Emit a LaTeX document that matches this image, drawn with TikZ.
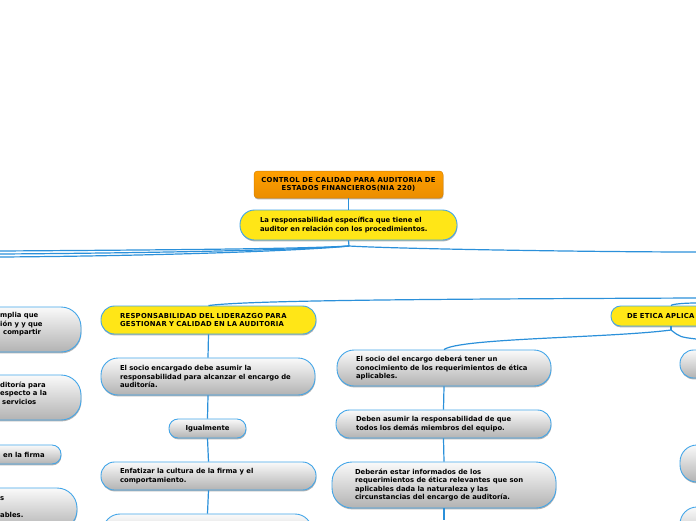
\documentclass[tikz,border=0pt]{standalone}
\usepackage{fontspec}
\setmainfont{DejaVu Sans}
\newfontfamily\capsfont{DejaVu Sans}[LetterSpace=4]
\usetikzlibrary{shadows,calc}
\definecolor{bord}{HTML}{42A5E8}
\definecolor{conn}{HTML}{2B90DA}
\definecolor{ylw}{HTML}{FFE617}
\definecolor{org}{HTML}{FF9A00}
\tikzset{
  txt/.style={font=\fontsize{6.85}{8.5}\selectfont\bfseries},
  captxt/.style={font=\fontsize{6.85}{8.5}\selectfont\capsfont\bfseries},
  base/.style={txt, draw=bord, line width=0.9pt, inner ysep=0pt,
    drop shadow={shadow xshift=0.4pt, shadow yshift=-1.4pt, opacity=0.3, fill=black}},
  graypill/.style={base, rounded corners=#1, top color=black!2, bottom color=black!30},
  graypill/.default=13pt,
  ylwpill/.style={base, rounded corners=#1, fill=ylw},
  ylwpill/.default=13pt,
  orgbox/.style={base, draw=org!85!black, line width=0.5pt, rounded corners=3.5pt, top color=org!95!yellow, bottom color=org!92!black},
  lbl/.style={txt, align=left, inner sep=0pt},
  cline/.style={draw=conn, line width=1.2pt},
}
\begin{document}
\begin{tikzpicture}[x=1pt,y=-1pt]
\useasboundingbox (0,0) rectangle (696,520);
\clip (0,0) rectangle (696,520);

% coordinates for free ends
\coordinate (fk) at (349,246);
\coordinate (L1) at (0,251);
\coordinate (L2) at (0,254);
\coordinate (L3) at (0,257);
\coordinate (R1) at (696,252);
\coordinate (RB1) at (696,298);
\coordinate (RB2) at (696,303);
\coordinate (fk2) at (671,330);
\coordinate (RB3) at (696,339);
\coordinate (endM) at (444,520);

% top
\node[orgbox, captxt, minimum width=189pt, minimum height=27pt, align=center] (root) at (348.5,184.5)
  {CONTROL DE CALIDAD PARA AUDITORIA DE\\ESTADOS FINANCIEROS(NIA 220)};
\node[ylwpill=14.5pt, minimum width=217pt, minimum height=30pt, text width=177pt, inner xsep=20pt, align=left] (ylwn) at (348.5,225)
  {La responsabilidad específica que tiene el\\auditor en relación con los procedimientos.};

% left column
\node[ylwpill=13.5pt, captxt, minimum width=215pt, minimum height=28pt, text width=177pt, inner xsep=19pt, align=left] (resp) at (208.5,320)
  {RESPONSABILIDAD DEL LIDERAZGO PARA\\GESTIONAR Y CALIDAD EN LA AUDITORIA};
\node[graypill=17pt, minimum width=214pt, minimum height=37pt, text width=176pt, inner xsep=19pt, align=left] (socio1) at (208,376.5)
  {El socio encargado debe asumir la\\responsabilidad para alcanzar el encargo de\\auditoría.};
\node[graypill=9pt, minimum width=77pt, minimum height=19pt, align=center] (igual) at (207.5,428.5) {Igualmente};
\node[graypill=13.5pt, minimum width=215pt, minimum height=28pt, text width=177pt, inner xsep=19pt, align=left] (enfat) at (208.5,476)
  {Enfatizar la cultura de la firma y el\\comportamiento.};
\node[graypill=17pt, minimum width=209pt, minimum height=40pt] (botL) at (207.5,534) {};

% middle column
\node[graypill=17pt, minimum width=214pt, minimum height=36pt, text width=176pt, inner xsep=19pt, align=left] (socio2) at (444,368)
  {El socio del encargo deberá tener un\\conocimiento de los requerimientos de ética\\aplicables.};
\node[graypill=13.5pt, minimum width=215pt, minimum height=28pt, text width=175pt, inner xsep=20pt, align=left] (deben) at (443.5,424)
  {Deben asumir la responsabilidad de que\\todos los demás miembros del equipo.};
\node[graypill=20pt, minimum width=224pt, minimum height=46pt, text width=178pt, inner xsep=23pt, align=left] (deberan) at (444,485)
  {Deberán estar informados de los\\requerimientos de ética relevantes que son\\aplicables dada la naturaleza y las\\circunstancias del encargo de auditoría.};

% right column
\node[ylwpill=9.5pt, captxt, minimum width=120pt, minimum height=20pt, text width=88pt, inner xsep=16pt, align=left] (etica) at (671,316)
  {DE ETICA APLICA};
\node[graypill=13.5pt, minimum width=200pt, minimum height=28pt] (r1) at (780,364) {};
\node[graypill=17pt, minimum width=200pt, minimum height=37pt] (r2) at (780,463.5) {};
\node[graypill=17pt, minimum width=200pt, minimum height=40pt] (r3) at (780,527) {};

% left partial nodes
\node[graypill=20pt, minimum width=231pt, minimum height=45pt] (la) at (-34.5,329.5) {};
\node[graypill=20pt, minimum width=231pt, minimum height=45pt] (lb) at (-34.5,397.5) {};
\node[graypill=9pt, minimum width=211pt, minimum height=19pt] (lc) at (-44.5,454.5) {};
\node[graypill=20pt, minimum width=227pt, minimum height=42pt] (ld) at (-36.5,509) {};
\node[lbl, anchor=west] (ta) at (0,324.5) {mplia que\\ión y y que\\\hspace*{3pt}compartir};
\node[lbl, anchor=west] (tb) at (0,393) {ditoría para\\especto a la\\\hspace*{2pt}servicios};
\node[lbl, anchor=west] (tc) at (3,454.5) {en la firma};
\node[lbl, anchor=west] (td) at (0,507) {s\\ \\ables.};

% connectors
\draw[cline] (root.south) -- (ylwn.north);
\draw[cline] (ylwn.south) -- (fk);
\draw[cline] (fk) .. controls (300,249) and (150,250) .. (L1);
\draw[cline] (fk) .. controls (300,250) and (150,253) .. (L2);
\draw[cline] (fk) .. controls (300,251) and (150,256) .. (L3);
\draw[cline] (fk) .. controls (400,249) and (600,252) .. (R1);
\draw[cline] (RB1) .. controls (450,299) and (250,300) .. (resp.north);
\draw[cline] (RB2) .. controls (685,303) and (672,304) .. (etica.north);
\draw[cline] (etica.south) -- (fk2);
\draw[cline] (fk2) .. controls (610,338) and (460,338) .. (socio2.north);
\draw[cline] (fk2) .. controls (680,337) .. (RB3);
\draw[cline] (resp.south) -- (socio1.north);
\draw[cline] (socio1.south) -- (igual.north);
\draw[cline] (igual.south) -- (enfat.north);
\draw[cline] (enfat.south) -- (botL.north);
\draw[cline] (socio2.south) -- (deben.north);
\draw[cline] (deben.south) -- (deberan.north);
\draw[cline] (deberan.south) -- (endM);
\end{tikzpicture}
\end{document}
